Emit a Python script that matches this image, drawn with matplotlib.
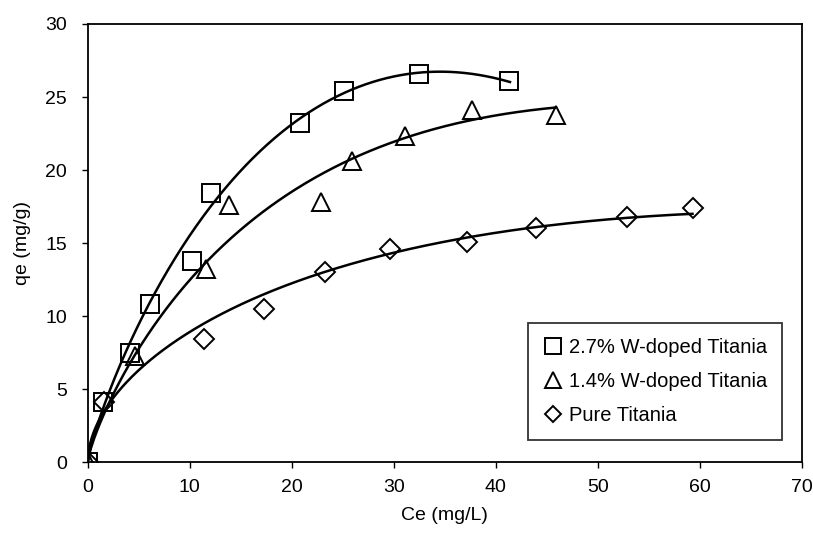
import numpy as np
import matplotlib
matplotlib.use("Agg")
import matplotlib.pyplot as plt

plt.rcParams['font.family'] = ['Liberation Sans', 'DejaVu Sans']

ce_w27 = [0, 1.5, 4.1, 6.1, 10.2, 12.1, 20.8, 25.1, 32.5, 41.3]
qe_w27 = [0, 4.1, 7.5, 10.8, 13.8, 18.4, 23.2, 25.4, 26.6, 26.1]

ce_w14 = [0, 4.6, 11.6, 13.8, 22.9, 25.9, 31.1, 37.7, 45.9]
qe_w14 = [0, 7.3, 13.2, 17.6, 17.8, 20.6, 22.3, 24.1, 23.8]

ce_pure = [0, 1.6, 11.4, 17.3, 23.3, 29.6, 37.2, 44.0, 52.9, 59.3]
qe_pure = [0, 4.1, 8.4, 10.5, 13.0, 14.6, 15.1, 16.0, 16.8, 17.4]

# Fitted model curves
fit_ce_w27 = [0, 1.5, 2.3, 3.8, 6.1, 9.0, 12.1, 15.6, 20.6, 25.0, 28.6, 32.4, 36.8, 41.4]
fit_qe_w27 = [0, 4.1, 5.0, 7.5, 10.7, 14.5, 17.7, 20.6, 23.3, 25.25, 26.16, 26.6, 26.6, 26.1]

fit_ce_w14 = [0, 2.8, 4.6, 9.0, 11.6, 15.6, 21.4, 25.9, 31.1, 37.8, 45.8]
fit_qe_w14 = [0, 5.0, 7.5, 11.6, 13.4, 16.5, 19.2, 20.7, 22.2, 23.4, 24.3]

fit_ce_pure = [0, 3.1, 4.1, 10.0, 11.4, 16.5, 23.2, 29.6, 37.1, 44.0, 48.2, 52.9, 59.3]
fit_qe_pure = [0, 5.0, 5.6, 9.0, 9.5, 11.1, 13.0, 14.5, 15.3, 16.0, 16.4, 16.8, 17.0]

labels = ["2.7% W-doped Titania", "1.4% W-doped Titania", "Pure Titania"]
markers = ["s", "^", "D"]
msizes = [13, 13, 10]


def smooth_fit(xs, ys, n=300):
    xs = np.asarray(xs, float)
    ys = np.asarray(ys, float)
    s = np.sqrt(xs)
    A = np.vstack([s, s**2, s**3, s**4]).T
    coef, *_ = np.linalg.lstsq(A, ys, rcond=None)
    xx = np.linspace(0, xs.max(), n)
    ss = np.sqrt(xx)
    yy = np.vstack([ss, ss**2, ss**3, ss**4]).T @ coef
    return xx, yy


fig = plt.figure(figsize=(8.13, 5.33), dpi=100)
ax = fig.add_axes([0.108, 0.133, 0.878, 0.822])

series = [(ce_w27, qe_w27), (ce_w14, qe_w14), (ce_pure, qe_pure)]
fits = [(fit_ce_w27, fit_qe_w27), (fit_ce_w14, fit_qe_w14), (fit_ce_pure, fit_qe_pure)]
for (x, y), (fx, fy), lab, m, ms in zip(series, fits, labels, markers, msizes):
    xx, yy = smooth_fit(fx, fy)
    ax.plot(xx, yy, color='black', lw=1.8, zorder=2)
    ax.plot(x, y, linestyle='none', marker=m, markersize=ms, markerfacecolor='none',
            markeredgecolor='black', markeredgewidth=1.4, label=lab, zorder=3)

ax.set_xlim(0, 70)
ax.set_ylim(0, 30)
ax.set_xticks(range(0, 71, 10))
ax.set_yticks(range(0, 31, 5))
ax.tick_params(direction='out', length=4, width=1, labelsize=14, colors='black')
ax.tick_params(axis='y', pad=11)
ax.tick_params(axis='x', pad=8)
for s in ax.spines.values():
    s.set_color('black')
    s.set_linewidth(1.3)

ax.set_xlabel("Ce (mg/L)", fontsize=14, labelpad=8)
ax.set_ylabel("qe (mg/g)", fontsize=14, labelpad=10)

leg = ax.legend(loc='lower right', bbox_to_anchor=(0.973, 0.05), fontsize=14.5,
                frameon=True, fancybox=False, edgecolor='black', handletextpad=0.3,
                handlelength=1.0, borderpad=0.75, labelspacing=0.75, markerscale=0.85,
                borderaxespad=0.0)
leg.get_frame().set_linewidth(1.3)

fig.savefig("out.png", dpi=100)
